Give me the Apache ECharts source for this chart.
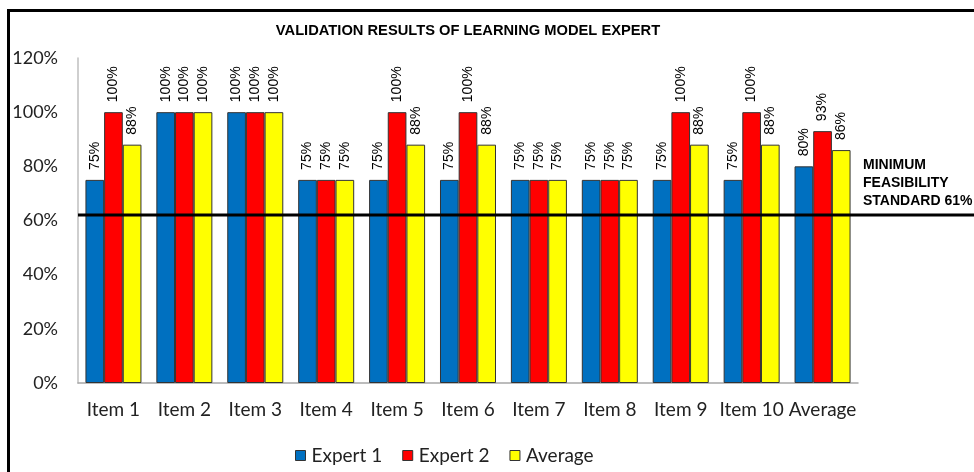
<!DOCTYPE html>
<html>
<head>
<meta charset="utf-8">
<title>Validation Results of Learning Model Expert</title>
<script src="https://cdn.jsdelivr.net/npm/echarts@6/dist/echarts.min.js"></script>
<style>
    html, body { margin: 0; padding: 0; background: #fff; }
    #wrap { position: relative; width: 974px; height: 472px; }
    #chart { width: 974px; height: 472px; }
    /* the black frame at left/top of the original picture */
    #frame {
        position: absolute; left: 7px; top: 9px; right: 0; bottom: 0;
        border-left: 3px solid #000; border-top: 3px solid #000;
        pointer-events: none;
    }
</style>
</head>
<body>
<div id="wrap">
    <div id="chart"></div>
    <div id="frame"></div>
</div>
<script>
// ---- data ----
const categories = ['Item 1', 'Item 2', 'Item 3', 'Item 4', 'Item 5', 'Item 6', 'Item 7', 'Item 8', 'Item 9', 'Item 10', 'Average'];
const expert1 = [75, 100, 100, 75, 75, 75, 75, 75, 75, 75, 80];
const expert2 = [100, 100, 100, 75, 100, 100, 75, 75, 100, 100, 93];
const average = [88, 100, 100, 75, 88, 88, 75, 75, 88, 88, 86];
const yTicks = [0, 20, 40, 60, 80, 100, 120];
const standardLine = 62;   // where the line sits in the picture
const standardText = 'MINIMUM\nFEASIBILITY\nSTANDARD 61%';

let myChart = echarts.init(document.getElementById('chart'));

function barSeries(name, data, color) {
    return {
        name: name,
        type: 'bar',
        data: data,
        barGap: '0%',
        barCategoryGap: '21%',
        itemStyle: { color: color, borderColor: '#333', borderWidth: 1 },
        label: {
            show: true,
            position: 'top',
            rotate: 90,
            align: 'left',
            verticalAlign: 'middle',
            distance: 10,
            fontFamily: 'Liberation Sans',
            fontSize: 14,
            color: '#000',
            formatter: '{c}%'
        }
    };
}

const option = {
    animation: false,
    backgroundColor: '#fff',
    title: {
        text: 'VALIDATION RESULTS OF LEARNING MODEL EXPERT',
        left: 463,
        top: 18,
        textAlign: 'center',
        textStyle: { fontFamily: 'Liberation Sans', fontSize: 14.7, fontWeight: 'bold', color: '#000' }
    },
    legend: {
        left: 290,
        top: 441,
        itemWidth: 10,
        itemHeight: 10,
        itemGap: 20,
        icon: 'rect',
        itemStyle: { borderColor: '#333', borderWidth: 1 },
        textStyle: { fontFamily: 'Lato', fontSize: 19, color: '#222', padding: [0, 0, 0, 1] },
        data: ['Expert 1', 'Expert 2', 'Average']
    },
    grid: { left: 78, right: 116, top: 58, bottom: 89 },
    xAxis: {
        type: 'category',
        data: categories,
        axisLine: { lineStyle: { color: '#a6a6a6', width: 1.5 } },
        axisTick: { show: false },
        axisLabel: { fontFamily: 'Lato', fontSize: 19, color: '#222', margin: 17, interval: 0 }
    },
    yAxis: {
        type: 'value',
        min: yTicks[0],
        max: yTicks[yTicks.length - 1],
        interval: yTicks[1] - yTicks[0],
        axisLine: { show: true, lineStyle: { color: '#bfbfbf', width: 1.5 } },
        axisTick: { show: false },
        splitLine: { show: false },
        axisLabel: { fontFamily: 'Lato', fontSize: 18, color: '#222', margin: 20, formatter: '{value}%' }
    },
    series: [
        barSeries('Expert 1', expert1, '#0070c0'),
        barSeries('Expert 2', expert2, '#ff0000'),
        barSeries('Average', average, '#ffff00')
    ]
};

myChart.setOption(option);

// reference line runs past the plot area to the right edge, so draw it as graphic
const step = myChart.convertToPixel({ xAxisIndex: 0 }, 1) - myChart.convertToPixel({ xAxisIndex: 0 }, 0);
const lineY = myChart.convertToPixel({ yAxisIndex: 0 }, standardLine);
const gridLeft = myChart.convertToPixel({ xAxisIndex: 0 }, 0) - step / 2;
const gridRight = myChart.convertToPixel({ xAxisIndex: 0 }, categories.length - 1) + step / 2;

myChart.setOption({
    graphic: [
        {
            type: 'line',
            z: 10,
            shape: { x1: gridLeft, y1: lineY, x2: myChart.getWidth(), y2: lineY },
            style: { stroke: '#000', lineWidth: 3 }
        },
        {
            type: 'text',
            z: 10,
            x: gridRight + 5,
            y: lineY - 5,
            style: {
                text: standardText,
                textVerticalAlign: 'bottom',
                fontFamily: 'Liberation Sans',
                fontSize: 14,
                fontWeight: 'bold',
                lineHeight: 18,
                fill: '#000'
            }
        }
    ]
});
</script>
</body>
</html>
